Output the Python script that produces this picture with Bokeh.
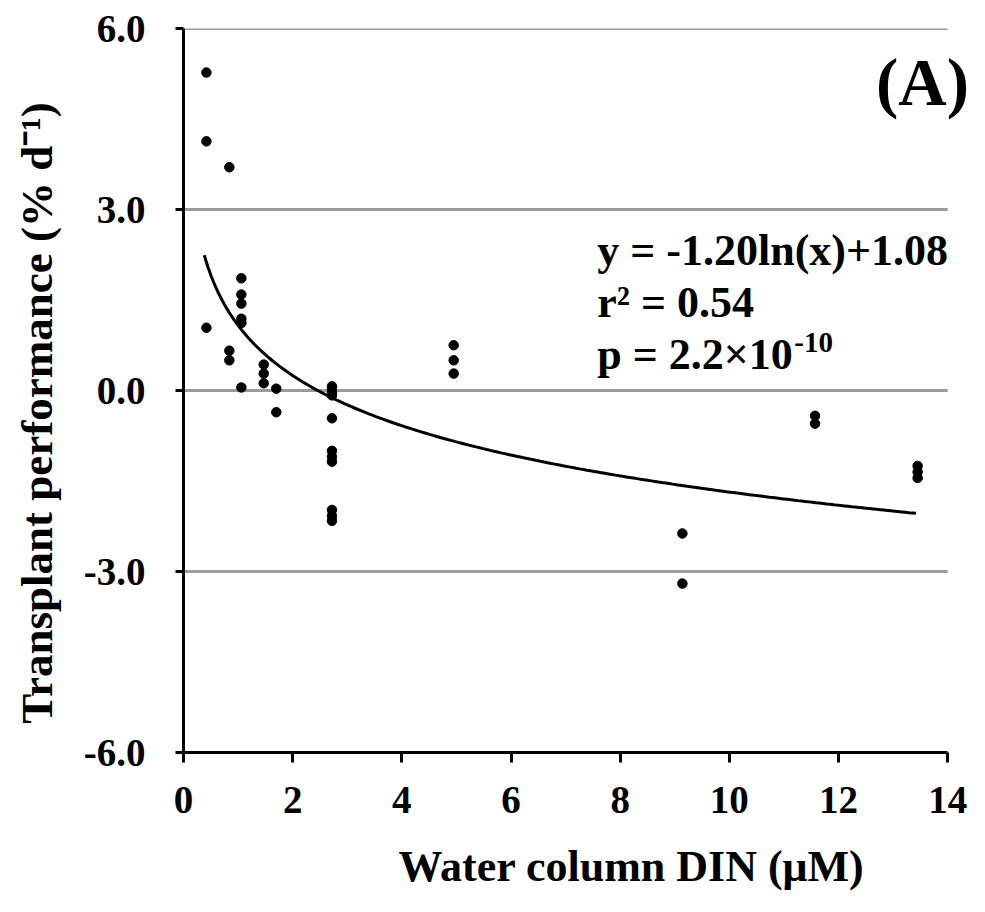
from bokeh.plotting import figure
from bokeh.models import Range1d, FixedTicker, Label, ColumnDataSource
from bokeh.embed import file_html
from bokeh.resources import INLINE
import numpy as np

# ---- data ----
din = [0.42, 0.42, 0.42,
       0.84, 0.84, 0.84,
       1.06, 1.06, 1.06, 1.06, 1.06, 1.06,
       1.47, 1.47, 1.47,
       1.70, 1.70,
       2.72, 2.72, 2.72, 2.72, 2.72, 2.72, 2.72, 2.72, 2.72, 2.72, 2.72,
       4.95, 4.95, 4.95,
       9.14, 9.14,
       11.57, 11.57,
       13.45, 13.45, 13.45]
performance = [5.27, 4.13, 1.04,
               3.70, 0.66, 0.50,
               1.86, 1.59, 1.44, 1.19, 1.12, 0.05,
               0.43, 0.28, 0.12,
               0.03, -0.36,
               0.07, 0.02, -0.04, -0.08, -0.46, -1.00, -1.10, -1.18, -1.98, -2.08, -2.16,
               0.75, 0.50, 0.28,
               -2.37, -3.20,
               -0.42, -0.55,
               -1.25, -1.35, -1.45]

fit_slope = -1.20
fit_intercept = 1.08
fit_xmin = 0.38
fit_xmax = 13.42

x_ticks = [0, 2, 4, 6, 8, 10, 12, 14]
y_ticks = [-6, -3, 0, 3, 6]
y_tick_labels = ["-6.0", "-3.0", "0.0", "3.0", "6.0"]
grid_levels = [-3, 0, 3, 6]

eq_lines = ["y = -1.20ln(x)+1.08", "r\u00b2 = 0.54", "p = 2.2\u00d710"]
eq_p_exponent = "-10"
panel_label = "(A)"

FONT = "Liberation Serif"

p = figure(width=969, height=896, output_backend="svg", toolbar_location=None,
           x_range=Range1d(0, 14.4), y_range=Range1d(-6, 6),
           min_border_left=183, min_border_right=0,
           min_border_top=28, min_border_bottom=144)
p.outline_line_color = None
p.background_fill_color = "white"
p.border_fill_color = "white"
p.xgrid.visible = False
p.ygrid.visible = False

# axes
for ax in (p.xaxis[0], p.yaxis[0]):
    ax.axis_line_color = "black"
    ax.axis_line_width = 3
    ax.major_tick_line_color = "black"
    ax.major_tick_line_width = 3
    ax.major_tick_in = 0
    ax.minor_tick_line_color = None
    ax.major_label_text_font = FONT
    ax.major_label_text_font_style = "bold"
    ax.major_label_text_font_size = "39px"
    ax.major_label_text_color = "black"
    ax.axis_label_text_font = FONT
    ax.axis_label_text_font_style = "bold"
    ax.axis_label_text_color = "black"

p.xaxis.bounds = (0, 14)
p.xaxis.ticker = FixedTicker(ticks=x_ticks)
p.xaxis.major_tick_out = 10
p.xaxis.major_label_standoff = 24
p.xaxis.axis_label = "\u2002\u2002\u2002\u2002\u2002Water column DIN (\u03bcM)"
p.xaxis.axis_label_text_font_size = "44px"
p.xaxis.axis_label_standoff = 26

p.yaxis.ticker = FixedTicker(ticks=y_ticks)
p.yaxis.major_label_overrides = {t: l for t, l in zip(y_ticks, y_tick_labels)}
p.yaxis.major_tick_out = 8
p.yaxis.major_label_standoff = 30
p.yaxis.axis_label = "Transplant performance (% d\u207b\u00b9)\u2002\u2002"
p.yaxis.axis_label_text_font_size = "45px"
p.yaxis.axis_label_standoff = 19

# horizontal grid lines spanning the x axis only
p.segment(x0=[0] * len(grid_levels), x1=[14] * len(grid_levels),
          y0=grid_levels, y1=grid_levels, line_color="#9a9a9a", line_width=3)

# fitted curve from the displayed equation
xs = np.linspace(fit_xmin, fit_xmax, 200)
ys = fit_slope * np.log(xs) + fit_intercept
p.line(xs, ys, line_color="black", line_width=3)

# data points
src = ColumnDataSource(dict(x=din, y=performance))
p.scatter("x", "y", source=src, size=9.5, fill_color="black", line_color="black")

# equation text
eq_x = 7.58
eq_y = [2.32, 1.46, 0.60]
for txt, yy in zip(eq_lines, eq_y):
    p.add_layout(Label(x=eq_x, y=yy, text=txt,
                       text_font=FONT, text_font_style="bold",
                       text_font_size="44px", text_color="black",
                       text_align="left", text_baseline="middle"))
p.add_layout(Label(x=eq_x, y=eq_y[2], x_offset=197, y_offset=12,
                   text=eq_p_exponent, text_font=FONT, text_font_style="bold",
                   text_font_size="29px", text_color="black",
                   text_align="left", text_baseline="middle"))

p.add_layout(Label(x=14.39, y=5.12, text=panel_label, text_font=FONT,
                   text_font_style="bold", text_font_size="67px",
                   text_color="black", text_align="right",
                   text_baseline="middle"))

open("out.html", "w").write(file_html(p, INLINE))
